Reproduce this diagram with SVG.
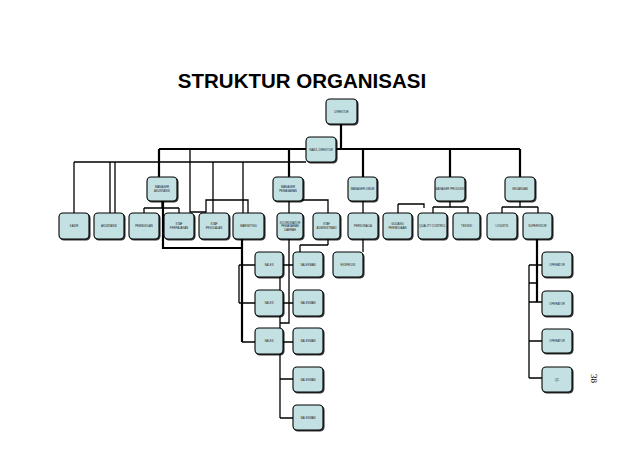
<svg xmlns="http://www.w3.org/2000/svg" width="638" height="452" viewBox="0 0 638 452">
<defs>
<filter id="shd" x="-10%" y="-10%" width="130%" height="130%">
<feOffset in="SourceAlpha" dx="0.8" dy="0.8" result="o"/>
<feFlood flood-color="#000" flood-opacity="0.8"/>
<feComposite in2="o" operator="in" result="s"/>
<feMerge><feMergeNode in="s"/><feMergeNode in="SourceGraphic"/></feMerge>
</filter>
</defs>
<style>
.box{fill:#c3e0e3;stroke:#000;stroke-width:1.1;filter:url(#shd)}
.lbl{font-family:"Liberation Sans",Arial,sans-serif;font-size:2.8px;fill:#222;text-anchor:middle}
.ln{fill:none;stroke:#000;stroke-width:1.3}
.lt{fill:none;stroke:#000;stroke-width:2.2}
.title{font-family:"Liberation Sans",Arial,sans-serif;font-size:20.5px;font-weight:bold;fill:#000;text-anchor:middle}
</style>
<rect width="638" height="452" fill="#fff"/>
<text class="title" x="302" y="88">STRUKTUR ORGANISASI</text>
<g id="connectors">
<path class="lt" d="M341 124V149M159 149H520M159 149V177M289 149V177M363 149V177M450 149V177M520 149V177"/>
<path class="ln" d="M74 162H306M74 162V213M110 162V213M115 162V213M190 149V212H206V200H248V213M213 162V213M243 162V213"/>
<path class="ln" d="M162 201V208M144 208H179M144 208V213M179 208V213"/>
<path class="lt" d="M163 201V248H242"/>
<path class="ln" d="M289 201V213M289 200H328V213"/>
<path class="ln" d="M363 201V213M398 204V213M398 204H424V208"/>
<path class="ln" d="M450 201V207M433 207H468M433 207V213M468 207V213"/>
<path class="ln" d="M520 201V207M502 207H538M502 207V213M538 207V213"/>
<path class="lt" d="M242 239V342M537 239V302"/>
<path class="ln" d="M239 265V303M239 265H255M239 303H255M242 342H255"/>
<path class="ln" d="M283 265H293M283 303H293M283 342H293M289 239V323H280M280 277V290M280 316V328M280 354V418M280 379H293M280 418H293"/>
<path class="ln" d="M328 239V245M300 245H328M300 245V252M363 239V252"/>
<path class="ln" d="M529 265V378M529 265H542M529 283H537M529 302H542M529 341H542M529 378H542"/>
</g>
<g id="n1"><rect class="box" x="326" y="99" width="31" height="25" rx="4"/><text class="lbl" x="341.5" y="112.5">DIREKTUR</text></g>
<g id="n2"><rect class="box" x="306" y="137" width="30" height="25" rx="4"/><text class="lbl" x="321" y="150.5">WAKIL DIREKTUR</text></g>
<g id="n3"><rect class="box" x="147" y="177" width="30" height="24" rx="4"/><text class="lbl" x="162" y="188">MANAGER</text><text class="lbl" x="162" y="191.5">AKUNTANSI</text></g>
<g id="n4"><rect class="box" x="273" y="177" width="30" height="24" rx="4"/><text class="lbl" x="288" y="188">MANAGER</text><text class="lbl" x="288" y="191.5">PEMASARAN</text></g>
<g id="n5"><rect class="box" x="348" y="177" width="29" height="24" rx="4"/><text class="lbl" x="362.5" y="190">MANAGER UMUM</text></g>
<g id="n6"><rect class="box" x="435" y="177" width="30" height="24" rx="4"/><text class="lbl" x="450" y="190">MANAGER PRODUKSI</text></g>
<g id="n7"><rect class="box" x="505" y="177" width="30" height="24" rx="4"/><text class="lbl" x="520" y="190">KEUANGAN</text></g>
<g id="n8"><rect class="box" x="59" y="213" width="30" height="26" rx="4"/><text class="lbl" x="74" y="227">KASIR</text></g>
<g id="n9"><rect class="box" x="94" y="213" width="30" height="26" rx="4"/><text class="lbl" x="109" y="227">AKUNTANSI</text></g>
<g id="n10"><rect class="box" x="129" y="213" width="30" height="26" rx="4"/><text class="lbl" x="144" y="227">PEMBUKUAN</text></g>
<g id="n11"><rect class="box" x="164" y="213" width="30" height="26" rx="4"/><text class="lbl" x="179" y="225">STAF</text><text class="lbl" x="179" y="228.5">PERPAJAKAN</text></g>
<g id="n12"><rect class="box" x="199" y="213" width="30" height="26" rx="4"/><text class="lbl" x="214" y="225">STAF</text><text class="lbl" x="214" y="228.5">PENJUALAN</text></g>
<g id="n13"><rect class="box" x="233" y="213" width="31" height="26" rx="4"/><text class="lbl" x="248.5" y="227">MARKETING</text></g>
<g id="n14"><rect class="box" x="277" y="213" width="26" height="26" rx="4"/><text class="lbl" x="290" y="223.5">KOORDINATOR</text><text class="lbl" x="290" y="227">PEMASARAN</text><text class="lbl" x="290" y="230.5">DAERAH</text></g>
<g id="n15"><rect class="box" x="313" y="213" width="27" height="26" rx="4"/><text class="lbl" x="326.5" y="225">STAF</text><text class="lbl" x="326.5" y="228.5">ADMINISTRASI</text></g>
<g id="n16"><rect class="box" x="348" y="213" width="30" height="26" rx="4"/><text class="lbl" x="363" y="227">PERSONALIA</text></g>
<g id="n17"><rect class="box" x="383" y="213" width="29" height="26" rx="4"/><text class="lbl" x="397.5" y="225">GUDANG</text><text class="lbl" x="397.5" y="228.5">PERSEDIAAN</text></g>
<g id="n18"><rect class="box" x="418" y="213" width="29" height="26" rx="4"/><text class="lbl" x="432.5" y="227">QUALITY CONTROL</text></g>
<g id="n19"><rect class="box" x="453" y="213" width="27" height="26" rx="4"/><text class="lbl" x="466.5" y="227">TEKNISI</text></g>
<g id="n20"><rect class="box" x="487" y="213" width="30" height="26" rx="4"/><text class="lbl" x="502" y="227">LOGISTIK</text></g>
<g id="n21"><rect class="box" x="523" y="213" width="29" height="26" rx="4"/><text class="lbl" x="537.5" y="227">SUPERVISOR</text></g>
<g id="n22"><rect class="box" x="255" y="252" width="28" height="25" rx="4"/><text class="lbl" x="269" y="265.5">SALES</text></g>
<g id="n23"><rect class="box" x="255" y="290" width="28" height="26" rx="4"/><text class="lbl" x="269" y="304">SALES</text></g>
<g id="n24"><rect class="box" x="255" y="328" width="28" height="26" rx="4"/><text class="lbl" x="269" y="342">SALES</text></g>
<g id="n25"><rect class="box" x="293" y="252" width="30" height="25" rx="4"/><text class="lbl" x="308" y="265.5">SALESMAN</text></g>
<g id="n26"><rect class="box" x="293" y="290" width="30" height="26" rx="4"/><text class="lbl" x="308" y="304">SALESMAN</text></g>
<g id="n27"><rect class="box" x="293" y="328" width="30" height="26" rx="4"/><text class="lbl" x="308" y="342">SALESMAN</text></g>
<g id="n28"><rect class="box" x="293" y="367" width="30" height="25" rx="4"/><text class="lbl" x="308" y="380.5">SALESMAN</text></g>
<g id="n29"><rect class="box" x="293" y="405" width="30" height="25" rx="4"/><text class="lbl" x="308" y="418.5">SALESMAN</text></g>
<g id="n30"><rect class="box" x="333" y="252" width="30" height="25" rx="4"/><text class="lbl" x="348" y="265.5">EKSPEDISI</text></g>
<g id="n31"><rect class="box" x="542" y="252" width="30" height="25" rx="4"/><text class="lbl" x="557" y="265.5">OPERATOR</text></g>
<g id="n32"><rect class="box" x="542" y="291" width="30" height="25" rx="4"/><text class="lbl" x="557" y="304.5">OPERATOR</text></g>
<g id="n33"><rect class="box" x="542" y="329" width="30" height="24" rx="4"/><text class="lbl" x="557" y="342">OPERATOR</text></g>
<g id="n34"><rect class="box" x="542" y="367" width="30" height="25" rx="4"/><text class="lbl" x="557" y="380.5">QC</text></g>
<text x="591" y="374" transform="rotate(90 591 374)" font-family="Liberation Serif,serif" font-size="9" fill="#000">38</text>
</svg>
